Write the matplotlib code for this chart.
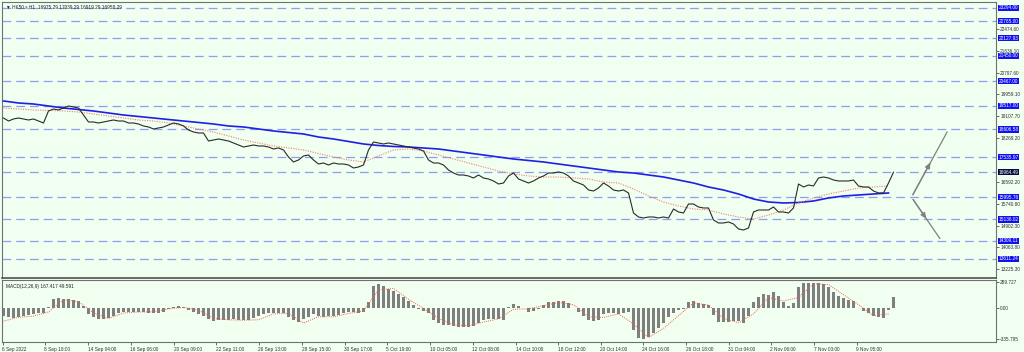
import numpy as np
import matplotlib
matplotlib.use("Agg")
import matplotlib.pyplot as plt
import matplotlib.transforms as mtransforms

# ---------------- data ----------------
close = [19050, 18934, 19012, 19050, 19012, 18973, 19012, 18934, 18857, 19320,
         19397, 19359, 19436, 19513, 19474, 19436, 19166, 18896, 18896, 18857,
         18896, 18934, 18973, 18934, 18934, 18857, 18857, 18819, 18742, 18703,
         18626, 18664, 18703, 18780, 18857, 18819, 18742, 18587, 18510, 18471,
         18471, 18163, 18201, 18240, 18201, 18163, 18086, 18008, 17931, 17970,
         18008, 17970, 17970, 17931, 17854, 17893, 17816, 17545, 17353, 17430,
         17584, 17623, 17430, 17275, 17314, 17237, 17314, 17275, 17275, 17237,
         17121, 17160, 17237, 17816, 18124, 18086, 18047, 18086, 18047, 18008,
         17970, 17931, 17893, 17854, 17777, 17430, 17314, 17314, 17237, 17044,
         16928, 16851, 16851, 16813, 16735, 16851, 16735, 16697, 16620, 16504,
         16542, 16813, 16928, 16697, 16620, 16542, 16620, 16735, 16813, 16928,
         16928, 16967, 16928, 16813, 16620, 16542, 16465, 16272, 16234, 16350,
         16542, 16427, 16272, 16234, 16272, 16157, 15385, 15231, 15192, 15231,
         15231, 15192, 15231, 15192, 15539, 15424, 15385, 15732, 15732, 15617,
         15578, 15578, 15115, 14999, 14999, 15038, 14961, 14768, 14729, 14806,
         15424, 15501, 15501, 15501, 15617, 15424, 15424, 15385, 15578, 16504,
         16388, 16465, 16427, 16735, 16774, 16735, 16658, 16620, 16620, 16620,
         16658, 16427, 16388, 16388, 16234, 16157, 16157, 16542, 16958]

# moving averages sampled every 3 bars of the close series
ma_slow = [19706, 19629, 19590, 19513, 19436, 19378, 19320, 19243, 19166, 19108,
           19050, 18992, 18934, 18877, 18819, 18742, 18703, 18626, 18549, 18491,
           18433, 18317, 18240, 18144, 18047, 17989, 17951, 17931, 17893, 17854,
           17777, 17700, 17623, 17545, 17468, 17411, 17353, 17275, 17198, 17121,
           17044, 16967, 16928, 16851, 16774, 16658, 16542, 16388, 16272, 16118,
           15925, 15809, 15771, 15790, 15848, 15964, 16041, 16080, 16118, 16157]
ma_fast = [19436, 19397, 19359, 19340, 19320, 19282, 19205, 19127, 19050, 18973,
           18934, 18857, 18742, 18626, 18510, 18356, 18201, 18086, 17970, 17893,
           17816, 17681, 17545, 17430, 17353, 17584, 17816, 17854, 17777, 17623,
           17468, 17314, 17160, 17005, 16890, 16813, 16774, 16774, 16735, 16697,
           16581, 16542, 16311, 16041, 15809, 15655, 15539, 15501, 15347, 15231,
           15154, 15308, 15501, 15771, 15964, 16118, 16234, 16350, 16388, 16427]

macd_main = [-80, -100, -105, -90, -80, -68, -60, -52, -48, 20,
             100, 110, 108, 102, 93, 82, 30, -60, -100, -121,
             -118, -102, -80, -55, -45, -37, -40, -43, -45, -50,
             -55, -48, -38, -5, 15, 25, 14, -20, -45, -65,
             -85, -120, -135, -130, -127, -124, -121, -123, -126, -128,
             -105, -84, -65, -48, -48, -48, -53, -95, -130, -150,
             -120, -92, -62, -80, -92, -88, -84, -70, -55, -37,
             -42, -48, -38, 73, 250, 267, 245, 218, 190, 162,
             130, 85, 35, -11, -33, -55, -130, -160, -178, -186,
             -196, -199, -203, -208, -190, -160, -133, -120, -112, -118,
             -125, 20, 48, 30, 5, -40, -30, -11, 35, 65,
             72, 80, 78, 55, 0, -45, -85, -125, -142, -128,
             -60, -48, -50, -58, -55, -37, -240, -320, -335, -312,
             -275, -220, -155, -92, -55, -18, -3, 73, 85, 58,
             48, 37, -73, -146, -146, -146, -142, -139, -155, -80,
             70, 130, 155, 146, 183, 135, 65, 25, 60, 230,
             275, 282, 282, 282, 268, 235, 175, 140, 115, 95,
             78, 0, -30, -55, -80, -100, -105, -20, 128]
macd_signal = [-140, -97, -85, -40, 95, 73, -50, -110, -50, -40,
               -37, -5, 11, -20, -110, -125, -130, -125, -60, -55,
               -160, -92, -92, -55, -27, 201, 220, 100, 0, -110,
               -180, -190, -150, -115, -10, -5, 30, 65, 40, -90,
               -100, -60, -170, -320, -220, -80, 60, 37, -110, -158,
               -60, 120, 80, 120, 270, 262, 150, 40, -80, -60]

level_lines = [23294.00, 22785.00, 22127.93, 21450.00, 20467.00, 19517.00,
               18606.58, 17535.97, 16964.49, 15995.76, 15136.02, 14309.11, 13611.24]
price_ticks = [22474.60, 21636.10, 20797.60, 19959.10, 19107.70, 18269.20,
               16592.20, 15740.80, 14902.30, 14063.80, 13225.30]
macd_ticks = [289.727, 0.0, -335.795]

x_labels = ["6 Sep 2022", "8 Sep 18:00", "14 Sep 04:00", "16 Sep 06:00", "20 Sep 09:00",
            "22 Sep 11:00", "26 Sep 13:00", "28 Sep 15:00", "30 Sep 17:00", "5 Oct 19:00",
            "10 Oct 05:00", "12 Oct 08:00", "14 Oct 10:00", "18 Oct 12:00", "20 Oct 14:00",
            "24 Oct 16:00", "26 Oct 18:00", "31 Oct 04:00", "2 Nov 06:00", "7 Nov 03:00",
            "9 Nov 05:00"]
x_label_pos = [-0.2, 8.2, 16.8, 25.4, 34.0, 42.4, 51.0, 59.6, 68.2, 76.6, 85.2,
               93.8, 102.4, 110.8, 119.4, 127.8, 136.4, 145.0, 153.4, 162.0, 170.6]

# projection arrows (from level -> level)
arrow_start = (181.6, 15995.76)
arrow_ends = [(189.0, 18606.58), (187.6, 14309.11)]

title_text = "HK50.s,H1  16975.29 17039.29 16919.29 16958.29"
macd_text = "MACD(12,26,9) 167.417 49.591"

# ---------------- style ----------------
BG = "#F0FFF0"
FS = 3.4
plt.rcParams['font.family'] = ['Liberation Sans', 'DejaVu Sans']

fig = plt.figure(figsize=(10.24, 3.52), dpi=100, facecolor=BG)
W, H = 1024.0, 352.0
ax = fig.add_axes([2 / W, 1 - 278 / H, 994 / W, 276 / H])
ax2 = fig.add_axes([2 / W, 1 - 342 / H, 994 / W, 62.5 / H])
for a in (ax, ax2):
    a.set_facecolor(BG)
    for s in a.spines.values():
        s.set_color("#707070")
        s.set_linewidth(0.8)
ax.spines['bottom'].set_color("#505050")
ax.spines['bottom'].set_linewidth(1.2)

xs = np.arange(len(close))
xm = np.arange(len(ma_slow)) * 3

# level lines
for lv in level_lines:
    ax.axhline(lv, color="#8f9ff0", lw=0.9, ls=(0, (7, 4)), zorder=1)

ax.plot(xm, ma_slow, color="#1f1fe6", lw=1.2, zorder=3)
ax.plot(xm, ma_fast, color="#f08070", lw=0.8, ls=(0, (1, 1.2)), zorder=3)
ax.plot(xs, close, color="#2a2a2a", lw=0.8, zorder=4)

# arrows
for ex, ey in arrow_ends:
    ax.annotate("", xy=(ex, ey), xytext=arrow_start,
                arrowprops=dict(arrowstyle="-", color="#808080", lw=0.9))
    mx = arrow_start[0] + (ex - arrow_start[0]) * 0.55
    my = arrow_start[1] + (ey - arrow_start[1]) * 0.55
    ax.annotate("", xy=(mx, my), xytext=arrow_start,
                arrowprops=dict(arrowstyle="-|>,head_length=0.35,head_width=0.15",
                                color="#808080", lw=0.9))

ax.set_xlim(-0.3, 198.5)
ax.set_ylim(12877, 23525)
ax2.set_xlim(-0.3, 198.5)
ax2.set_ylim(-369, 317)

# right price axis
ax.yaxis.tick_right()
ax.set_yticks(price_ticks)
ax.set_yticklabels([f"{v:.2f}" for v in price_ticks], fontsize=FS, color="#202020")
ax.tick_params(axis='y', length=2, width=0.5, pad=1, colors="#303030")
ax.set_xticks([])

trans = mtransforms.blended_transform_factory(ax.transAxes, ax.transData)
for lv in level_lines:
    fc = "#0a0a40" if abs(lv - 16964.49) < 1 else "#1010f0"
    ax.text(1.0025, lv, f"{lv:.2f}", transform=trans, fontsize=FS, color="white",
            va="center", ha="left",
            bbox=dict(boxstyle="square,pad=0.15", fc=fc, ec="none"), clip_on=False)

ax.text(0.004, 0.993, "\u25bc " + title_text, transform=ax.transAxes, fontsize=FS,
        va="top", ha="left", color="#202020")

# MACD
ax2.bar(xs, macd_main, width=0.62, color="#7f7f7f", zorder=2)
ax2.plot(xm, macd_signal, color="#f06050", lw=0.7, ls=(0, (1, 1.2)), zorder=3)
ax2.yaxis.tick_right()
ax2.set_yticks(macd_ticks)
ax2.set_yticklabels(["289.727", "0.00", "-335.795"], fontsize=FS, color="#202020")
ax2.tick_params(axis='y', length=2, width=0.5, pad=1, colors="#303030")
ax2.text(0.004, 0.93, macd_text, transform=ax2.transAxes, fontsize=FS,
         va="top", ha="left", color="#202020")

ax2.set_xticks(x_label_pos)
ax2.set_xticklabels(x_labels, fontsize=FS, color="#202020", ha="left")
ax2.tick_params(axis='x', length=2.5, width=0.5, pad=1, colors="#303030")

fig.savefig("out.png", dpi=100, facecolor=BG)
